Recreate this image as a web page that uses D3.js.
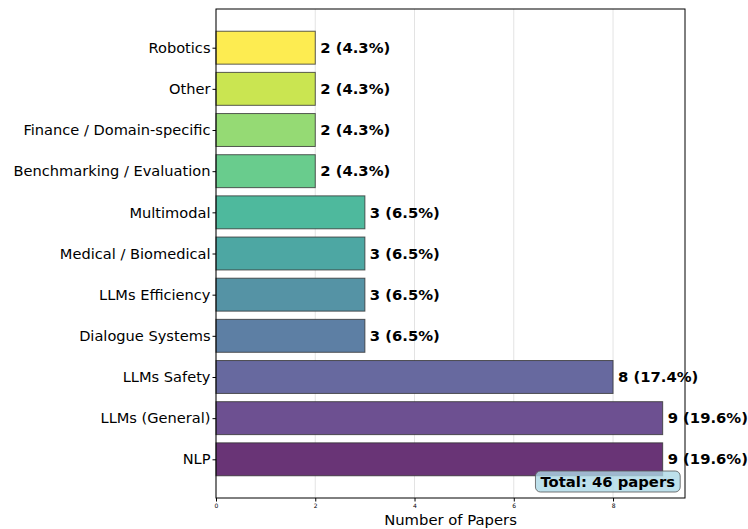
<!DOCTYPE html>
<html><head><meta charset="utf-8">
<script src="https://cdn.jsdelivr.net/npm/d3@7"></script>
<style>body{margin:0;background:#fff;} text{font-family:"DejaVu Sans",sans-serif;}</style>
</head><body>
<svg id="c" width="748" height="529"></svg>
<script>
const categories = ["NLP","LLMs (General)","LLMs Safety","Dialogue Systems","LLMs Efficiency","Medical / Biomedical","Multimodal","Benchmarking / Evaluation","Finance / Domain-specific","Other","Robotics"];
const counts = [9,9,8,3,3,3,3,2,2,2,2];
const xTicks = [0,2,4,6,8];
const total = 46;

const svg = d3.select("#c");
const L = 216, R = 685, T = 9, B = 498;
const x = d3.scaleLinear().domain([0, 9.45]).range([L, R]);
const y = d3.scaleLinear().domain([-0.94, 10.94]).range([B, T]);
const n = categories.length;
const color = i => {
  const c = d3.rgb(d3.interpolateViridis(i / (n - 1)));
  const a = 0.8;
  return d3.rgb(c.r * a + 255 * (1 - a), c.g * a + 255 * (1 - a), c.b * a + 255 * (1 - a));
};

// grid
svg.append("g").selectAll("line").data(xTicks).join("line")
  .attr("x1", d => x(d)).attr("x2", d => x(d)).attr("y1", T).attr("y2", B)
  .attr("stroke", "#e3e3e3").attr("stroke-width", 1);

const bh = y(0) - y(0.8);
svg.append("g").selectAll("rect").data(counts).join("rect")
  .attr("x", x(0)).attr("y", (d, i) => y(i) - bh / 2)
  .attr("width", d => x(d) - x(0)).attr("height", bh)
  .attr("fill", (d, i) => color(i)).attr("stroke", "#333").attr("stroke-opacity", 0.8).attr("stroke-width", 1);

// value labels
svg.append("g").selectAll("text").data(counts).join("text")
  .attr("x", d => x(d + 0.1)).attr("y", (d, i) => y(i)).attr("dy", "0.35em")
  .attr("font-size", 14.8).attr("font-weight", "bold").attr("fill", "#000")
  .text(d => `${d} (${(d / total * 100).toFixed(1)}%)`);

// frame
svg.append("rect").attr("x", L).attr("y", T).attr("width", R - L).attr("height", B - T)
  .attr("fill", "none").attr("stroke", "#000").attr("stroke-width", 1);

// y axis
const yAxis = d3.axisLeft(y).tickValues(d3.range(n)).tickFormat(i => categories[i]).tickSize(3.5).tickPadding(2);
const gy = svg.append("g").attr("transform", `translate(${L},0)`).call(yAxis);
gy.select(".domain").remove();
gy.selectAll("text").attr("font-size", 14.6).attr("fill", "#000").style("font-family", "DejaVu Sans");

// x axis
const xAxis = d3.axisBottom(x).tickValues(xTicks).tickSize(3.5).tickPadding(2);
const gx = svg.append("g").attr("transform", `translate(0,${B})`).call(xAxis);
gx.select(".domain").remove();
gx.selectAll("text").attr("font-size", 6).attr("fill", "#000").style("font-family", "DejaVu Sans");

svg.append("text").attr("x", (L + R) / 2).attr("y", 525).attr("text-anchor", "middle")
  .attr("font-size", 14.8).text("Number of Papers");

// total box
const tg = svg.append("g");
const tt = tg.append("text").attr("x", 675).attr("y", 487).attr("text-anchor", "end")
  .attr("font-size", 14.8).attr("font-weight", "bold").text(`Total: ${total} papers`);
const bb = tt.node().getBBox();
tg.insert("rect", "text").attr("x", bb.x - 5).attr("y", bb.y - 2).attr("width", bb.width + 10).attr("height", bb.height + 4)
  .attr("rx", 5).attr("fill", "rgba(173,216,230,0.8)").attr("stroke", "#555").attr("stroke-opacity", 0.8);
</script>
</body></html>
